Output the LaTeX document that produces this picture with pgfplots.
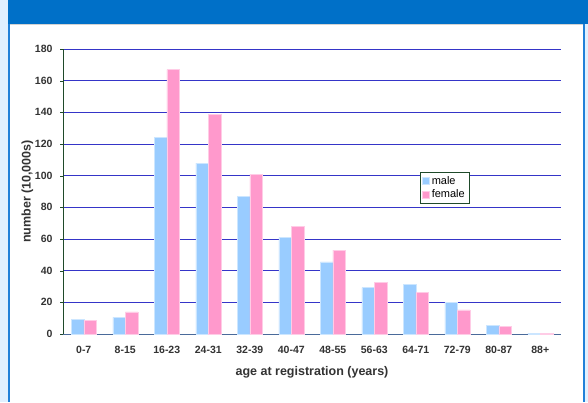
\documentclass[border=0pt]{standalone}
\usepackage{fontspec}
\setmainfont{Liberation Sans}
\usepackage{pgfplots}
\pgfplotsset{compat=1.18}
\definecolor{male}{HTML}{99CCFF}
\definecolor{female}{HTML}{FF99CC}
\definecolor{gridblue}{HTML}{3535C8}
\definecolor{banner}{HTML}{0070C8}
\definecolor{pale}{HTML}{E0F0FF}
\definecolor{edgeblue}{HTML}{2080D8}
\definecolor{axgreen}{HTML}{1F4A2A}
\definecolor{axblue}{HTML}{4A6A9A}

\begin{document}
\begin{tikzpicture}[x=1bp,y=1bp]
\useasboundingbox (0,0) rectangle (588,402);
% frame of the slide
\fill[pale] (0,0) rectangle (588,402);
\fill[banner] (8,378) rectangle (588,402);
\fill[edgeblue] (8,0) rectangle (10,378);
\fill[edgeblue] (583,0) rectangle (585,378);
\fill[white] (10,0) rectangle (583,377);
\draw[gray!35] (10,377.5) -- (583,377.5);

\begin{axis}[
  at={(63bp,68bp)}, anchor=south west,
  scale only axis, width=498bp, height=285bp,
  ybar=0pt, bar width=12.5bp,
  xmin=-0.5, xmax=11.5, ymin=0, ymax=180,
  axis x line*=bottom, axis y line*=left,
  x axis line style={axblue, line width=0.8bp},
  y axis line style={axgreen, line width=0.8bp},
  xtick={0,...,11},
  xticklabels={0-7,8-15,16-23,24-31,32-39,40-47,48-55,56-63,64-71,72-79,80-87,88+},
  xtick style={draw=none},
  extra x ticks={-0.5,0.5,...,11.5},
  extra x tick labels={},
  extra x tick style={major tick length=4bp, tick style={draw=axblue}},
  ytick={0,20,...,180},
  ytick style={draw=axgreen},
  major tick length=3bp,
  tick align=outside,
  ymajorgrids, grid style={gridblue, line width=0.8bp},
  /pgf/number format/assume math mode=true,
  ticklabel style={font=\fontsize{10.5bp}{12bp}\selectfont\bfseries, text=black!80},
  yticklabel style={xshift=-4bp},
  xticklabel style={yshift=-6bp},
  label style={font=\fontsize{12.5bp}{14bp}\selectfont\bfseries, text=black!80},
  xlabel style={yshift=1bp},
  ylabel style={yshift=-5bp},
  xlabel={age at registration (years)},
  ylabel={number (10,000s)},
  legend style={at={(0.717,0.568)}, anchor=north west, draw=axgreen,
    font=\fontsize{11bp}{13bp}\selectfont, inner sep=2bp, row sep=0bp},
  legend cell align=left,
  legend image code/.code={\fill[#1] (0bp,-3.5bp) rectangle (7bp,3.5bp);},
]
\addplot[fill=male, draw=male!50!white, line width=0.5bp] coordinates {
  (0,9.3) (1,10.5) (2,124) (3,108) (4,87) (5,61)
  (6,45.5) (7,29.3) (8,31.5) (9,20.2) (10,5.3) (11,0.6)};
\addplot[fill=female, draw=female!50!white, line width=0.5bp] coordinates {
  (0,8.8) (1,13.9) (2,167) (3,138.5) (4,101) (5,68)
  (6,53) (7,32.8) (8,26.3) (9,15.3) (10,4.8) (11,0.5)};
\legend{male,female}
\end{axis}
\end{tikzpicture}
\end{document}
